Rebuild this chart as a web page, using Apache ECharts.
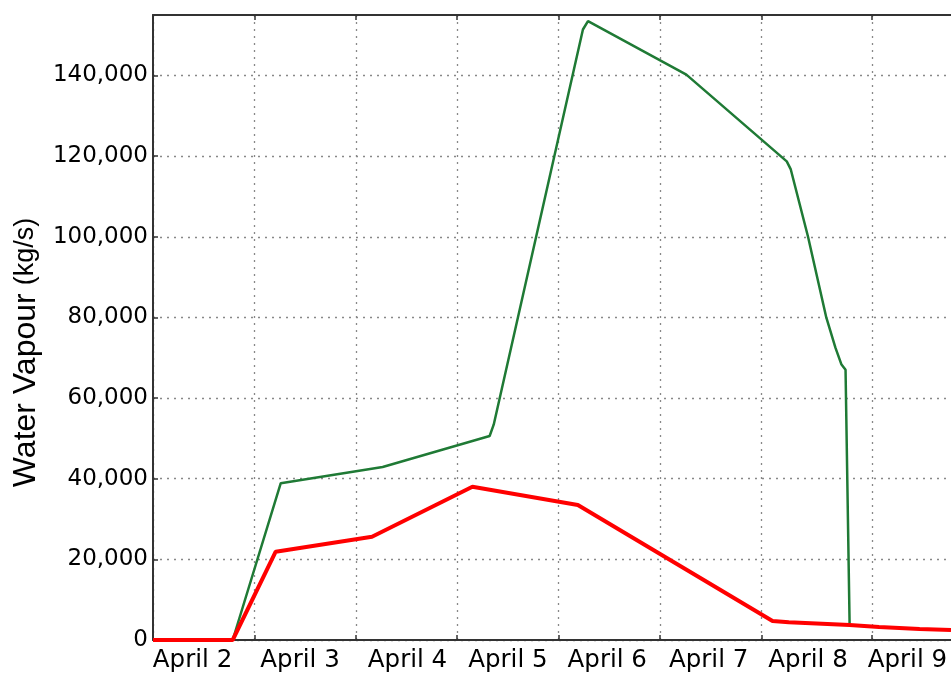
<!DOCTYPE html>
<html>
<head>
<meta charset="utf-8">
<script src="https://cdn.jsdelivr.net/npm/echarts@6/dist/echarts.min.js"></script>
<style>html,body{margin:0;padding:0;background:#fff}#c{width:951px;height:673px}</style>
</head>
<body>
<div id="c"></div>
<script>
// x values are days after April 2, 00:00
const dayLabels = ["April 2","April 3","April 4","April 5","April 6","April 7","April 8","April 9"];
const tickDays  = [0, 1, 2, 3, 4, 5, 6, 7.09];
const labelDays = [0.39, 1.45, 2.51, 3.5, 4.48, 5.48, 6.46, 7.44];

const greenDays   = [0, 0.786, 1.26, 2.265, 3.32, 3.36, 4.24, 4.29, 5.26, 6.25, 6.29, 6.46, 6.64, 6.73, 6.79, 6.83, 6.87];
const greenValues = [0, 0, 38900, 42900, 50600, 53400, 151400, 153500, 140200, 118700, 116700, 100000, 80000, 72500, 68300, 67000, 4100];

const redDays   = [0, 0.786, 1.21, 2.16, 3.15, 4.19, 6.11, 6.27, 6.87, 7.16, 7.56, 7.87];
const redValues = [0, 0, 21900, 25600, 38000, 33500, 4700, 4400, 3700, 3200, 2700, 2450];

const yTicks = [0, 20000, 40000, 60000, 80000, 100000, 120000, 140000];

function pairs(xs, ys){ return xs.map((x,i)=>[x, ys[i]]); }

const chart = echarts.init(document.getElementById('c'), null, {renderer:'canvas'});
const axisColor = '#333';
const gridLine = {show:true, lineStyle:{color:'#888', type:[2,5], width:1.3}};
chart.setOption({
  animation:false,
  grid:{left:153, top:15, bottom:33, right:0, show:false},
  xAxis:[{
    type:'value', min:0, max:7.87, position:'bottom',
    axisLine:{show:true, onZero:false, lineStyle:{color:axisColor, width:2}},
    axisTick:{show:true, inside:true, length:5, customValues:tickDays, lineStyle:{color:axisColor, width:1.5}},
    axisLabel:{show:true, customValues:labelDays, margin:8, color:'#000',
      fontFamily:'DejaVu Sans', fontSize:24.5,
      formatter:(v)=>{ const i = labelDays.findIndex(d=>Math.abs(d-v)<1e-6); return i>=0?dayLabels[i]:''; }},
    splitLine:gridLine
  },{
    type:'value', min:0, max:7.87, position:'top',
    axisLine:{show:true, onZero:false, lineStyle:{color:axisColor, width:2}},
    axisTick:{show:true, inside:true, length:5, customValues:tickDays, lineStyle:{color:axisColor, width:1.5}},
    axisLabel:{show:false}, splitLine:{show:false}
  }],
  yAxis:{
    type:'value', min:0, max:155000, interval:20000,
    axisLine:{show:true, lineStyle:{color:axisColor, width:2}},
    axisTick:{show:true, inside:true, length:5, customValues:yTicks, lineStyle:{color:axisColor, width:1.5}},
    axisLabel:{customValues:yTicks, margin:5, color:'#000', fontFamily:'DejaVu Sans', fontSize:23,
      formatter:(v)=>v.toLocaleString('en-US')},
    splitLine:gridLine,
    name:'{a|Water Vapour}{s| }{b|(kg/s)}',
    nameLocation:'middle', nameGap:109, nameRotate:90,
    nameTextStyle:{padding:[0,50,0,0], rich:{
      a:{fontFamily:'Liberation Sans', fontSize:32, color:'#000'},
      s:{fontFamily:'Liberation Sans', fontSize:32, width:8},
      b:{fontFamily:'Liberation Sans', fontSize:27, color:'#000'}
    }}
  },
  series:[
    {type:'line', xAxisIndex:0, data:pairs(greenDays, greenValues), showSymbol:false, symbol:'none',
     lineStyle:{color:'#1f7a35', width:2.5}, z:2},
    {type:'line', xAxisIndex:0, data:pairs(redDays, redValues), showSymbol:false, symbol:'none',
     lineStyle:{color:'#ff0000', width:4}, z:3}
  ]
});
</script>
</body>
</html>
